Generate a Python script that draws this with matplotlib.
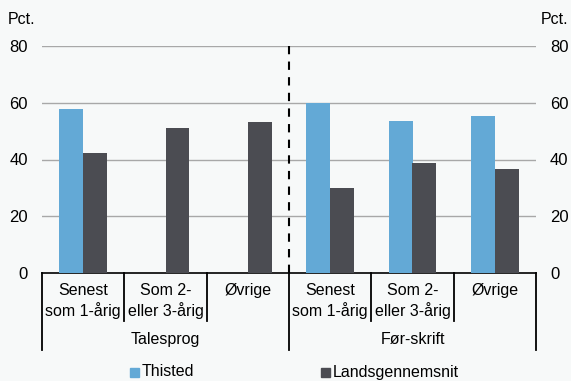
import numpy as np
import matplotlib.pyplot as plt

plt.rcParams["font.family"] = ["Liberation Sans", "DejaVu Sans"]

categories = ["Senest\nsom 1-årig", "Som 2-\neller 3-årig", "Øvrige",
              "Senest\nsom 1-årig", "Som 2-\neller 3-årig", "Øvrige"]
groups = ["Talesprog", "Før-skrift"]
thisted = [57.8, 0, 0, 59.9, 53.7, 55.4]
lands = [42.3, 51.0, 53.2, 30.0, 38.7, 36.6]
yticks = [0, 20, 40, 60, 80]

bg = "#f7f9f9"
c_thisted = "#63a9d6"
c_lands = "#4b4c52"

fig = plt.figure(figsize=(5.71, 3.81), dpi=100, facecolor=bg)
ax = fig.add_axes([42 / 571, 1 - 273 / 381, 494 / 571, 227 / 381], facecolor=bg)

x = np.arange(len(categories))
w = 0.29
ax.bar(x - w / 2, thisted, w, color=c_thisted, zorder=3)
ax.bar(x + w / 2, lands, w, color=c_lands, zorder=3)

ax.set_xlim(-0.5, len(categories) - 0.5)
ax.set_ylim(0, 80)
ax.set_yticks(yticks)
ax.tick_params(axis="y", length=0, labelsize=12, pad=10)
ax.set_xticks([])
for s in ["top", "right", "left"]:
    ax.spines[s].set_visible(False)
ax.spines["bottom"].set_color("black")
ax.spines["bottom"].set_linewidth(1.2)
for t in yticks[1:]:
    ax.axhline(t, color="#a8a8a8", lw=1, zorder=1)

ax2 = ax.twinx()
ax2.set_ylim(0, 80)
ax2.set_yticks(yticks)
ax2.tick_params(axis="y", length=0, labelsize=12, pad=10)
for s in ax2.spines.values():
    s.set_visible(False)

# divider between groups
ax.axvline(2.5, color="black", lw=1.5, ls=(0, (4, 3.5)), zorder=4)

fig.text(8 / 571, 1 - 20 / 381, "Pct.", fontsize=11.5, va="center")
fig.text(541 / 571, 1 - 20 / 381, "Pct.", fontsize=11.5, va="center")

# category axis
trans = ax.get_xaxis_transform()
for i, lab in enumerate(categories):
    ax.text(i, -0.045, lab, transform=trans, ha="center", va="top",
            fontsize=11.5, linespacing=1.3)
for b in range(len(categories) + 1):
    outer = b % 3 == 0
    y1 = -0.34 if outer else -0.21
    ax.plot([b - 0.5, b - 0.5], [0, y1], transform=trans, color="black",
            lw=1.3, clip_on=False)
for g, name in enumerate(groups):
    ax.text(g * 3 + 1, -0.295, name, transform=trans, ha="center",
            va="center", fontsize=11.5)

# legend
fig.patches.append(plt.Rectangle((130 / 571, 1 - 377 / 381), 9 / 571, 9 / 381,
                                 transform=fig.transFigure, color=c_thisted))
fig.text(142 / 571, 1 - 372 / 381, "Thisted", fontsize=11.5, va="center")
fig.patches.append(plt.Rectangle((321 / 571, 1 - 377 / 381), 9 / 571, 9 / 381,
                                 transform=fig.transFigure, color=c_lands))
fig.text(333 / 571, 1 - 372 / 381, "Landsgennemsnit", fontsize=11.5, va="center")

fig.savefig("out.png", dpi=100, facecolor=bg)
